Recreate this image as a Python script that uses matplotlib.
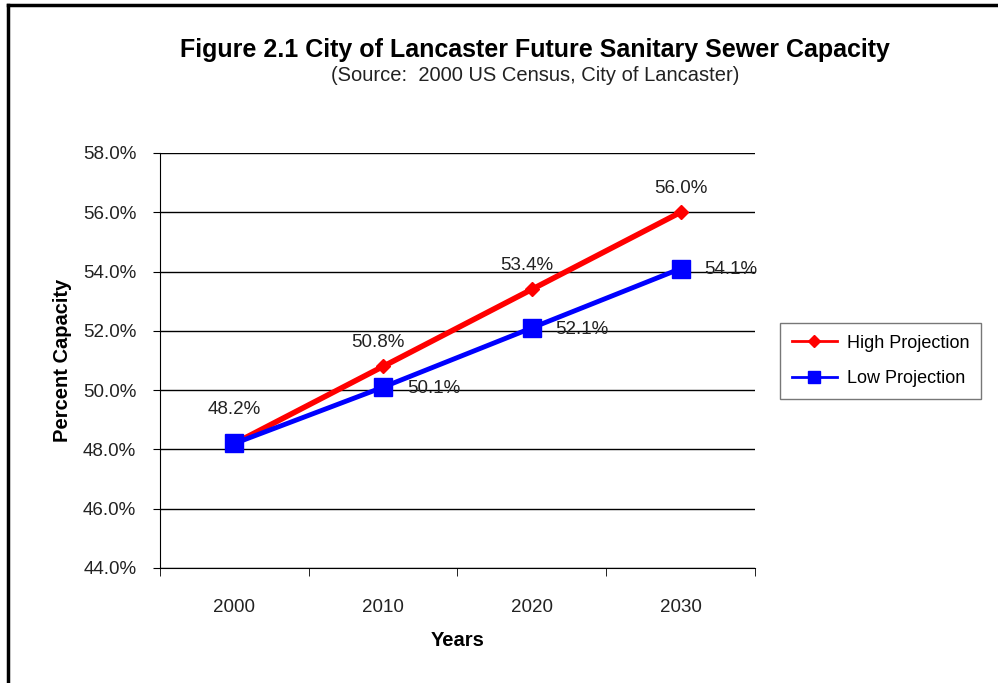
import matplotlib.pyplot as plt
from matplotlib.lines import Line2D
from matplotlib.ticker import FuncFormatter

plt.rcParams['font.family'] = ['Liberation Sans', 'DejaVu Sans']

# projected sewer capacity usage (percent)
years = ['2000', '2010', '2020', '2030']
high_proj = [48.2, 50.8, 53.4, 56.0]
low_proj = [48.2, 50.1, 52.1, 54.1]
y_ticks = [44, 46, 48, 50, 52, 54, 56, 58]

fig = plt.figure(figsize=(9.98, 6.83), dpi=100)
ax = fig.add_axes([0.1603, 0.1684, 0.5962, 0.6076])

x = list(range(len(years)))
ax.plot(x, high_proj, color='#ff0000', lw=4, marker='D', ms=7,
        label='High Projection', zorder=3)
ax.plot(x, low_proj, color='#0000ff', lw=3.5, marker='s', ms=13,
        label='Low Projection', zorder=4)

# value labels
lab_kw = dict(textcoords='offset points', fontsize=13.5, color='#222222')
ax.annotate(f'{high_proj[0]:.1f}%', (x[0], high_proj[0]), xytext=(0, 18),
            ha='center', va='bottom', **lab_kw)
for i in range(1, len(years)):
    dx = 0 if i == len(years) - 1 else -4
    ax.annotate(f'{high_proj[i]:.1f}%', (x[i], high_proj[i]), xytext=(dx, 11),
                ha='center', va='bottom', **lab_kw)
    ax.annotate(f'{low_proj[i]:.1f}%', (x[i], low_proj[i]), xytext=(17, -1),
                ha='left', va='center', **lab_kw)

ax.set_xlim(-0.5, 3.5)
ax.set_ylim(44, 58)
ax.set_yticks(y_ticks)
ax.yaxis.set_major_formatter(FuncFormatter(lambda v, p: f'{v:.1f}%'))
ax.grid(axis='y', color='black', lw=1)
ax.set_axisbelow(True)

ax.set_xticks(x)
ax.set_xticklabels(years)
ax.set_xticks([-0.5, 0.5, 1.5, 2.5, 3.5], minor=True)
ax.tick_params(axis='x', which='major', length=0, pad=22, labelsize=13.5, labelcolor='#222222')
ax.tick_params(axis='x', which='minor', length=6, direction='out', color='black')
ax.tick_params(axis='y', length=5, direction='out', labelsize=13.5, labelcolor='#222222', pad=12)

for side in ['top', 'right']:
    ax.spines[side].set_visible(False)
ax.spines['left'].set_color('black')
ax.spines['bottom'].set_color('black')

ax.set_xlabel('Years', fontsize=14.5, fontweight='bold', labelpad=11)
ax.set_ylabel('Percent Capacity', fontsize=14.5, fontweight='bold', labelpad=8)

fig.text(0.536, 0.927, 'Figure 2.1 City of Lancaster Future Sanitary Sewer Capacity',
         ha='center', va='center', fontsize=18, fontweight='bold')
fig.text(0.536, 0.889, '(Source:  2000 US Census, City of Lancaster)',
         ha='center', va='center', fontsize=14.5, color='#222222')

leg = fig.legend(loc='upper left', bbox_to_anchor=(0.7816, 0.527), fontsize=13,
                 frameon=True, fancybox=False, edgecolor='#555555', borderaxespad=0,
                 handlelength=2.5, handletextpad=0.55, borderpad=0.65, labelspacing=1.0)
leg.get_frame().set_linewidth(1)
for h in leg.legend_handles:
    h.set_linewidth(2)
leg.legend_handles[0].set_markersize(6)
leg.legend_handles[1].set_markersize(8)

# outer frame (left and top edges)
fig.add_artist(Line2D([0.0085, 0.0085], [0.0, 0.993], color='black', lw=2.5,
                      transform=fig.transFigure))
fig.add_artist(Line2D([0.0085, 1.0], [0.993, 0.993], color='black', lw=2.5,
                      transform=fig.transFigure))

fig.savefig('out.png', dpi=100)
